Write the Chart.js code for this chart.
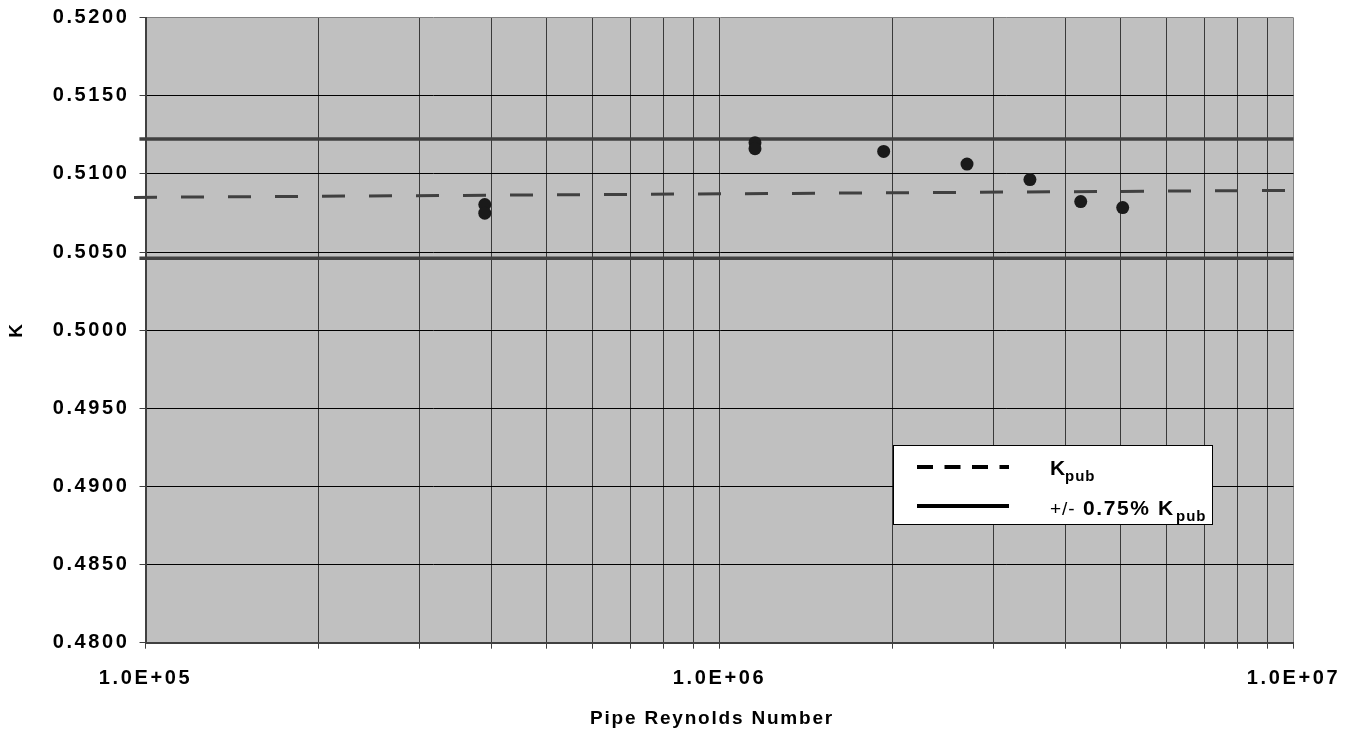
<!DOCTYPE html>
<html>
<head>
<meta charset="utf-8">
<script src="https://cdn.jsdelivr.net/npm/chart.js@4.4.1/dist/chart.umd.min.js"></script>
<style>
  html, body { margin: 0; padding: 0; background: #fff; }
  #wrap { width: 1354px; height: 741px; position: relative; }
</style>
</head>
<body>
<div id="wrap"><canvas id="chart"></canvas></div>
<script>
// measured points: pipe Reynolds number vs K
const reynolds = [3.90e5, 3.90e5, 1.153e6, 1.153e6, 1.932e6, 2.699e6, 3.474e6, 4.259e6, 5.040e6];
const kValues  = [0.50804, 0.50749, 0.51200, 0.51162, 0.51144, 0.51063, 0.50964, 0.50823, 0.50785];

// published K (dashed) and +/- 0.75% band (solid)
const kPubRe   = [9.55e4, 1.0e7];
const kPubVals = [0.50850, 0.50895];
const bandRe    = [9.76e4, 1.0e7];
const bandUpper = [0.51223, 0.51223];
const bandLower = [0.50461, 0.50461];

// axis ticks
const yTicks = [0.4800, 0.4850, 0.4900, 0.4950, 0.5000, 0.5050, 0.5100, 0.5150, 0.5200];
const xDecades = [5, 6, 7];

const FONT = "Arial, 'Liberation Sans', sans-serif";

function sciLabel(v) {
  const e = Math.round(Math.log10(v));
  return (v / Math.pow(10, e)).toFixed(1) + 'E+' + String(e).padStart(2, '0');
}

const pts = (xs, ys) => xs.map((x, i) => ({ x: x, y: ys[i] }));

// grey plot background, letter spacing for tick labels, titles and legend
const plotBg = {
  id: 'plotBg',
  beforeDraw(chart) {
    const { ctx, chartArea: a } = chart;
    ctx.save();
    ctx.fillStyle = '#c0c0c0';
    ctx.fillRect(a.left, a.top, a.right - a.left, a.bottom - a.top);
    ctx.restore();
    ctx.letterSpacing = '2.6px';
  },
  afterDraw(chart) {
    const ctx = chart.ctx;
    ctx.save();
    ctx.fillStyle = '#000';
    ctx.textBaseline = 'alphabetic';

    // axis titles
    ctx.letterSpacing = '1.8px';
    ctx.font = 'bold 19px ' + FONT;
    ctx.textAlign = 'center';
    ctx.fillText('Pipe Reynolds Number', 712, 724);
    ctx.save();
    ctx.translate(22, 331);
    ctx.rotate(-Math.PI / 2);
    ctx.font = 'bold 19px ' + FONT;
    ctx.letterSpacing = '0px';
    ctx.fillText('K', 0, 0);
    ctx.restore();

    // legend box
    ctx.textAlign = 'left';
    ctx.fillStyle = '#fff';
    ctx.fillRect(893, 445, 320, 80);
    ctx.strokeStyle = '#000';
    ctx.lineWidth = 1;
    ctx.strokeRect(893.5, 445.5, 319, 79);

    ctx.lineWidth = 4;
    ctx.setLineDash([16, 11.5]);
    ctx.beginPath(); ctx.moveTo(917, 467); ctx.lineTo(1009, 467); ctx.stroke();
    ctx.setLineDash([]);
    ctx.beginPath(); ctx.moveTo(917, 506); ctx.lineTo(1009, 506); ctx.stroke();

    ctx.fillStyle = '#000';
    ctx.letterSpacing = '1px';
    ctx.font = 'bold 21px ' + FONT;
    ctx.fillText('K', 1050, 475);
    ctx.font = 'bold 15px ' + FONT;
    ctx.fillText('pub', 1065, 481);

    ctx.font = '19px ' + FONT;
    ctx.letterSpacing = '1px';
    ctx.fillText('+/-', 1050, 515);
    ctx.font = 'bold 21px ' + FONT;
    ctx.letterSpacing = '1.6px';
    ctx.fillText('0.75% K', 1083, 515);
    ctx.font = 'bold 15px ' + FONT;
    ctx.letterSpacing = '1px';
    ctx.fillText('pub', 1176, 521);
    ctx.restore();
    ctx.letterSpacing = '0px';
  }
};

new Chart(document.getElementById('chart'), {
  type: 'scatter',
  data: {
    datasets: [
      {
        label: 'K',
        data: pts(reynolds, kValues),
        backgroundColor: '#1a1a1a',
        borderWidth: 0,
        pointRadius: 6.5,
        order: 0
      },
      {
        type: 'line',
        label: 'Kpub',
        data: pts(kPubRe, kPubVals),
        borderColor: '#404040',
        borderWidth: 3,
        borderDash: [23, 24],
        pointRadius: 0,
        clip: false,
        order: 1
      },
      {
        type: 'line',
        label: '+0.75%',
        data: pts(bandRe, bandUpper),
        borderColor: '#404040',
        borderWidth: 3.5,
        pointRadius: 0,
        clip: false,
        order: 2
      },
      {
        type: 'line',
        label: '-0.75%',
        data: pts(bandRe, bandLower),
        borderColor: '#404040',
        borderWidth: 3.5,
        pointRadius: 0,
        clip: false,
        order: 2
      }
    ]
  },
  options: {
    responsive: true,
    maintainAspectRatio: false,
    animation: false,
    events: [],
    layout: { padding: { top: 17.7, right: 60.5, left: 0, bottom: 0 } },
    plugins: { legend: { display: false }, tooltip: { enabled: false } },
    scales: {
      x: {
        type: 'logarithmic',
        min: 1e5,
        max: 1e7,
        afterBuildTicks(scale) {
          const t = [];
          xDecades.forEach(e => {
            for (let m = 1; m <= 9; m++) {
              if (e === 7 && m > 1) break;
              t.push({ value: m * Math.pow(10, e) });
            }
          });
          scale.ticks = t;
        },
        afterFit(scale) { scale.height = 98.3; },
        ticks: {
          autoSkip: false,
          maxRotation: 0,
          padding: 18,
          color: '#000',
          font: { family: FONT, size: 20, weight: 'bold' },
          callback(v) {
            const l = Math.log10(v);
            return Math.abs(l - Math.round(l)) < 1e-9 ? sciLabel(v) : '';
          }
        },
        grid: {
          color: ctx => (ctx.tick && ctx.tick.value === 1e7) ? '#808080' : '#3a3a3a',
          lineWidth: 1,
          drawTicks: true,
          tickLength: 6,
          tickColor: '#404040'
        },
        border: { color: '#404040', width: 2 }
      },
      y: {
        type: 'linear',
        min: 0.48,
        max: 0.52,
        afterBuildTicks(scale) { scale.ticks = yTicks.map(v => ({ value: v })); },
        afterFit(scale) {
          scale.width = 145.5;
          scale.paddingTop = 0;
          scale.paddingBottom = 0;
        },
        ticks: {
          padding: 10,
          color: '#000',
          font: { family: FONT, size: 20, weight: 'bold' },
          callback: v => v.toFixed(4)
        },
        grid: {
          color: ctx => (ctx.tick && Math.abs(ctx.tick.value - 0.52) < 1e-9) ? '#808080' : '#000',
          lineWidth: 1,
          drawTicks: true,
          tickLength: 6,
          tickColor: '#404040'
        },
        border: { color: '#404040', width: 2 }
      }
    }
  },
  plugins: [plotBg]
});
</script>
</body>
</html>
